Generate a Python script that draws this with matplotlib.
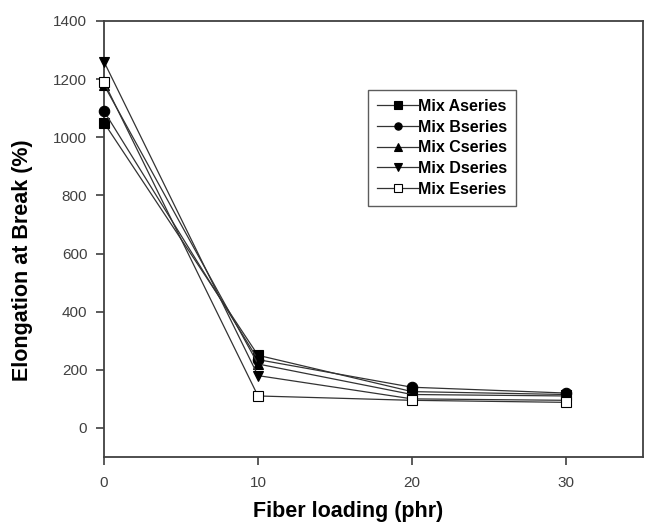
import matplotlib.pyplot as plt

plt.rcParams['font.family'] = ['Liberation Sans', 'DejaVu Sans']

# Fiber loading (phr)
fiber_loading = [0, 10, 20, 30]

# Elongation at break (%) for each mix series
mix_a = [1050, 250, 125, 115]
mix_b = [1090, 235, 140, 120]
mix_c = [1180, 220, 115, 110]
mix_d = [1260, 180, 100, 95]
mix_e = [1190, 110, 95, 88]

series = [
    ('Mix Aseries', mix_a, 's', 'black'),
    ('Mix Bseries', mix_b, 'o', 'black'),
    ('Mix Cseries', mix_c, '^', 'black'),
    ('Mix Dseries', mix_d, 'v', 'black'),
    ('Mix Eseries', mix_e, 's', 'white'),
]

W, H = 645, 524
fig = plt.figure(figsize=(W / 100, H / 100), dpi=100)
# axes box in pixels: left 104, right 643, top 21, bottom 457
L, R, T, B = 104, 643, 21, 457
ax = fig.add_axes([L / W, 1 - B / H, (R - L) / W, (B - T) / H])

for label, vals, marker, face in series:
    ax.plot(fiber_loading, vals, color='#333333', linewidth=0.9,
            marker=marker, markersize=7.5, markerfacecolor=face,
            markeredgecolor='black', markeredgewidth=0.8, label=label,
            clip_on=False, zorder=3)

ax.set_xlim(0, 35)
ax.set_ylim(-100, 1400)
ax.set_xticks([0, 10, 20, 30])
ax.set_yticks(range(0, 1401, 200))
ax.tick_params(direction='out', length=6, width=1.2, labelsize=11,
               labelcolor='#404040', color='#404040')
ax.tick_params(axis='x', pad=8)
ax.tick_params(axis='y', pad=6)
for s in ax.spines.values():
    s.set_linewidth(1.3)
    s.set_color('#404040')

ax.set_xlabel('Fiber loading (phr)', fontsize=15.5, fontweight='bold', va='center')
ax.set_ylabel('Elongation at Break (%)', fontsize=15.5, fontweight='bold', va='center')
ax.xaxis.set_label_coords((348 - L) / (R - L), -(512 - B) / (B - T))
ax.yaxis.set_label_coords(-(L - 23) / (R - L), (B - 260) / (B - T))

leg = ax.legend(loc='upper left', bbox_to_anchor=((368 - L) / (R - L), (B - 90) / (B - T)),
                prop={'weight': 'bold', 'size': 11.5}, frameon=True, fancybox=False,
                handlelength=2.6, handletextpad=0.0, labelspacing=0.36,
                borderpad=0.55, borderaxespad=0, markerscale=0.7)
leg.get_frame().set_edgecolor('#333333')
leg.get_frame().set_linewidth(1.0)

fig.savefig('out.png', dpi=100)
